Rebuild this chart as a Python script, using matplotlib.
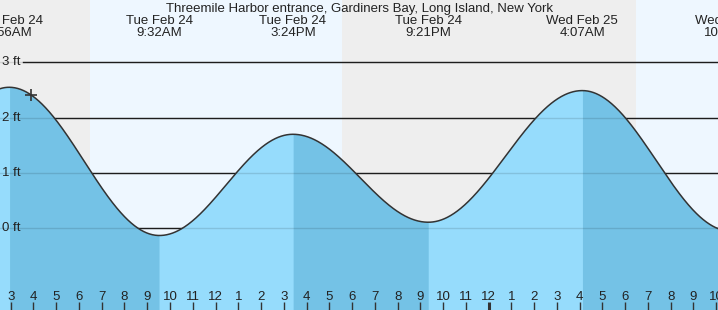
import numpy as np
import matplotlib
matplotlib.use('Agg')
import matplotlib.pyplot as plt
import matplotlib.transforms as mtransforms

plt.rcParams['font.family'] = ['Liberation Sans', 'DejaVu Sans']

title = 'Threemile Harbor entrance, Gardiners Bay, Long Island, New York'

# tide events, hours from Tue Feb 24 00:00, height in ft
event_hours = [-3.25, 2.933, 9.533, 15.40, 21.35, 28.117, 34.633]
event_heights = [0.05, 2.55, -0.13, 1.70, 0.11, 2.49, -0.05]
event_day = ['Mon Feb 23', 'Tue Feb 24', 'Tue Feb 24', 'Tue Feb 24', 'Tue Feb 24', 'Wed Feb 25', 'Wed Feb 25']
event_time = ['8:45PM', '2:56AM', '9:32AM', '3:24PM', '9:21PM', '4:07AM', '10:38AM']

# sun (hours from Feb 24 00:00)
sunrise = [6.48, 30.47]
sunset = [17.56]

now_hour = 3.89
y_ticks = [0, 1, 2, 3]
x_lo, x_hi = 2.53, 34.08

# tide curve: half-cosine between successive extremes
t = np.linspace(x_lo, x_hi, 1500)
h = np.zeros_like(t)
for i in range(len(event_hours) - 1):
    t0, t1 = event_hours[i], event_hours[i + 1]
    h0, h1 = event_heights[i], event_heights[i + 1]
    m = (t >= t0) & (t <= t1)
    ph = (t[m] - t0) / (t1 - t0)
    h[m] = (h0 + h1) / 2 + (h0 - h1) / 2 * np.cos(np.pi * ph)

W, H = 718, 310
fig = plt.figure(figsize=(W / 100, H / 100), dpi=100)
ax = fig.add_axes([0, 0, 1, 1])
ylo, yhi = -1.477, 4.128
ax.set_xlim(x_lo, x_hi)
ax.set_ylim(ylo, yhi)
ax.axis('off')

night = '#eeeeee'
day = '#eef7ff'
ax.axvspan(x_lo, sunrise[0], color=night, lw=0, zorder=0)
ax.axvspan(sunrise[0], sunset[0], color=day, lw=0, zorder=0)
ax.axvspan(sunset[0], sunrise[1], color=night, lw=0, zorder=0)
ax.axvspan(sunrise[1], x_hi, color=day, lw=0, zorder=0)

fs = 9.5
tc = '#222222'
px = (x_hi - x_lo) / W

# grid lines behind the water
for yv in y_ticks:
    ax.plot([x_lo + 23 * px, x_hi], [yv, yv], color='#222222', lw=1.0, zorder=1)
    ax.text(x_lo + 1.5 * px, yv, '%d ft' % yv, ha='left', va='center',
            fontsize=fs, color=tc, zorder=5)

# water fill: light (rising) everywhere, then darker falling stretches on top
ax.fill_between(t, ylo, h, color='#96dcfc', lw=0, zorder=2)
for i in range(len(event_hours) - 1):
    if event_heights[i] > event_heights[i + 1]:
        m = (t >= event_hours[i]) & (t <= event_hours[i + 1])
        ax.fill_between(t[m], ylo, h[m], color='#74c2e6', lw=0, zorder=2.1)

for yv in y_ticks:
    ax.plot([x_lo, x_hi], [yv, yv], color='black', alpha=0.12, lw=1.0, zorder=3)

ax.plot(t, h, color='#333333', lw=1.1, zorder=4)
ax.plot([now_hour], [np.interp(now_hour, t, h)], marker='+', ms=9, mew=1.2,
        color='#333333', zorder=5)

# event labels on top (pixel offsets from the top edge)
ttop = mtransforms.blended_transform_factory(ax.transData, ax.transAxes)
for hr, d, tm in zip(event_hours, event_day, event_time):
    if x_lo - 2 < hr < x_hi + 2:
        ax.text(hr, 1 - 24 / H, d, ha='center', va='baseline', fontsize=fs,
                color=tc, transform=ttop)
        ax.text(hr, 1 - 36 / H, tm, ha='center', va='baseline', fontsize=fs,
                color=tc, transform=ttop)

ax.text(0.5, 1 - 12 / H, title, ha='center', va='baseline', fontsize=fs,
        color=tc, transform=ax.transAxes)

# hour ticks along the bottom
for hr in range(3, 35):
    lab = hr % 12
    if lab == 0:
        lab = 12
    lw = 2.2 if hr % 24 == 0 else 1.0
    ax.plot([hr, hr], [0, 8 / H], color='#333333', lw=lw, transform=ttop,
            zorder=5, solid_capstyle='butt')
    ax.text(hr, 7 / H, str(lab), ha='center', va='bottom', fontsize=fs,
            color=tc, transform=ttop, zorder=5)

fig.savefig('out.png', dpi=100)
